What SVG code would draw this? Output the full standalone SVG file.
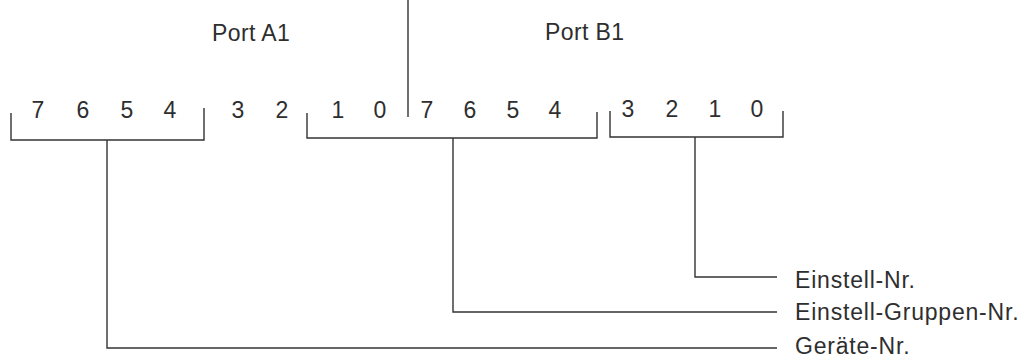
<svg xmlns="http://www.w3.org/2000/svg" width="1028" height="360" viewBox="0 0 1028 360">
  <style>
    .t { font-family: "Liberation Sans", Arial, sans-serif; font-size: 23px; fill: #2e2e2e; }
    .d { text-anchor: middle; }
    .ln { fill: none; stroke: #333; stroke-width: 1.4; }
  </style>
  <rect width="1028" height="360" fill="#ffffff"/>
  <g id="port-a1">
    <text class="t" x="212" y="41" letter-spacing="0.4">Port A1</text>
  </g>
  <g id="port-b1">
    <text class="t" x="545" y="40" letter-spacing="0.4">Port B1</text>
  </g>
  <g id="divider">
    <path class="ln" d="M408,0 V117"/>
  </g>
  <g id="bits-a">
    <text class="t d" x="38" y="118">7</text>
    <text class="t d" x="83" y="118">6</text>
    <text class="t d" x="127" y="118">5</text>
    <text class="t d" x="170" y="118">4</text>
    <text class="t d" x="238" y="118">3</text>
    <text class="t d" x="282" y="118">2</text>
    <text class="t d" x="338" y="118">1</text>
    <text class="t d" x="380" y="118">0</text>
  </g>
  <g id="bits-b">
    <text class="t d" x="427" y="118">7</text>
    <text class="t d" x="470" y="118">6</text>
    <text class="t d" x="513" y="118">5</text>
    <text class="t d" x="555" y="118">4</text>
    <text class="t d" x="628" y="117">3</text>
    <text class="t d" x="672" y="117">2</text>
    <text class="t d" x="715" y="117">1</text>
    <text class="t d" x="757" y="117">0</text>
  </g>
  <g id="bracket-geraete">
    <path class="ln" d="M11,113 V140 H204 V108"/>
  </g>
  <g id="bracket-gruppe">
    <path class="ln" d="M307,113 V138 H597 V112"/>
  </g>
  <g id="bracket-einstell">
    <path class="ln" d="M610,111 V137 H783 V111"/>
  </g>
  <g id="label-einstell">
    <text class="t" x="795" y="288" letter-spacing="0.8">Einstell-Nr.</text>
  </g>
  <g id="label-gruppe">
    <text class="t" x="795" y="320" letter-spacing="0.8">Einstell-Gruppen-Nr.</text>
  </g>
  <g id="label-geraete">
    <text class="t" x="795" y="354" letter-spacing="0.8">Geräte-Nr.</text>
  </g>
  <g id="connectors">
    <path class="ln" d="M695,137 V277 H777"/>
    <path class="ln" d="M453,138 V312 H777"/>
    <path class="ln" d="M107,140 V348 H777"/>
  </g>
</svg>
